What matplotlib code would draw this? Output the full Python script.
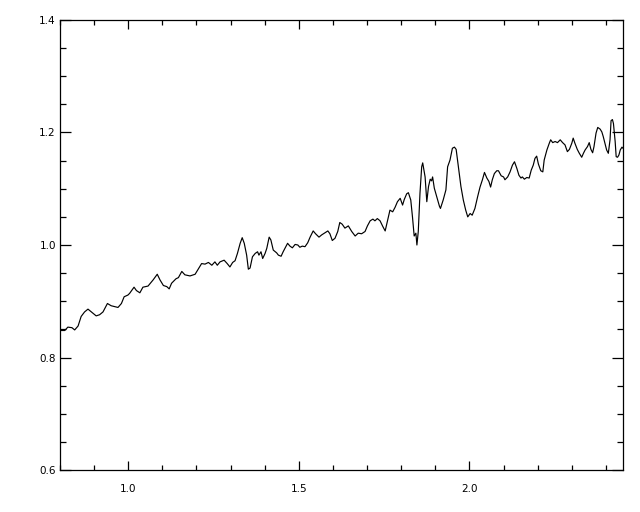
import numpy as np
import matplotlib
matplotlib.use('Agg')
import matplotlib.pyplot as plt
from matplotlib.ticker import MultipleLocator

# spectrum (wavelength, flux)
wave = [0.802, 0.814, 0.823, 0.835, 0.843, 0.853, 0.862, 0.872, 0.882, 0.892,
        0.906, 0.916, 0.926, 0.939, 0.950, 0.970, 0.980, 0.988, 0.999, 1.004,
        1.017, 1.024, 1.034, 1.043, 1.058, 1.073, 1.085, 1.093, 1.103, 1.113,
        1.120, 1.127, 1.140, 1.147, 1.157, 1.166, 1.181, 1.196, 1.205, 1.215,
        1.225, 1.235, 1.245, 1.254, 1.261, 1.269, 1.281, 1.290, 1.298, 1.306,
        1.313, 1.320, 1.328, 1.334, 1.340, 1.347, 1.352, 1.357, 1.364, 1.372,
        1.379, 1.383, 1.389, 1.394, 1.401, 1.406, 1.413, 1.418, 1.425, 1.435,
        1.440, 1.448, 1.454, 1.462, 1.467, 1.474, 1.481, 1.489, 1.497, 1.503,
        1.510, 1.518, 1.526, 1.533, 1.542, 1.549, 1.559, 1.567, 1.577, 1.585,
        1.591, 1.598, 1.606, 1.614, 1.620, 1.627, 1.635, 1.645, 1.655, 1.665,
        1.674, 1.684, 1.694, 1.701, 1.709, 1.717, 1.723, 1.730, 1.738, 1.746,
        1.753, 1.759, 1.767, 1.775, 1.782, 1.789, 1.797, 1.804, 1.809, 1.816,
        1.821, 1.828, 1.833, 1.838, 1.843, 1.846, 1.850, 1.855, 1.860, 1.863,
        1.870, 1.875, 1.880, 1.885, 1.889, 1.892, 1.897, 1.904, 1.912, 1.915,
        1.923, 1.931, 1.936, 1.943, 1.950, 1.956, 1.961, 1.967, 1.975, 1.982,
        1.989, 1.995, 2.002, 2.008, 2.016, 2.024, 2.031, 2.038, 2.044, 2.051,
        2.057, 2.062, 2.067, 2.073, 2.080, 2.085, 2.093, 2.100, 2.104, 2.112,
        2.119, 2.126, 2.132, 2.139, 2.145, 2.151, 2.155, 2.161, 2.168, 2.175,
        2.181, 2.187, 2.192, 2.197, 2.202, 2.209, 2.215, 2.219, 2.227, 2.234,
        2.238, 2.244, 2.251, 2.258, 2.266, 2.273, 2.280, 2.287, 2.293, 2.300,
        2.304, 2.309, 2.316, 2.322, 2.329, 2.334, 2.339, 2.346, 2.351, 2.356,
        2.361, 2.365, 2.371, 2.376, 2.383, 2.388, 2.392, 2.397, 2.402, 2.407,
        2.412, 2.415, 2.419, 2.422, 2.427, 2.430, 2.434, 2.438, 2.442, 2.447,
        2.450]
flux = [0.848, 0.848, 0.854, 0.853, 0.849, 0.856, 0.873, 0.881, 0.886, 0.881,
        0.874, 0.876, 0.881, 0.896, 0.892, 0.889, 0.896, 0.908, 0.911, 0.914,
        0.925, 0.919, 0.915, 0.925, 0.927, 0.938, 0.948, 0.938, 0.928, 0.926,
        0.922, 0.932, 0.940, 0.942, 0.953, 0.947, 0.945, 0.948, 0.957, 0.967,
        0.966, 0.969, 0.964, 0.970, 0.964, 0.970, 0.973, 0.967, 0.961, 0.969,
        0.972, 0.985, 1.003, 1.013, 1.003, 0.982, 0.957, 0.959, 0.979, 0.985,
        0.988, 0.982, 0.988, 0.976, 0.985, 0.994, 1.014, 1.009, 0.991, 0.986,
        0.982, 0.980, 0.988, 0.997, 1.003, 0.998, 0.995, 1.001, 1.000, 0.996,
        0.998, 0.997, 1.004, 1.014, 1.025, 1.020, 1.014, 1.018, 1.022, 1.025,
        1.020, 1.008, 1.012, 1.024, 1.040, 1.037, 1.030, 1.034, 1.024, 1.016,
        1.021, 1.020, 1.024, 1.034, 1.043, 1.046, 1.043, 1.047, 1.043, 1.033,
        1.025, 1.041, 1.062, 1.059, 1.067, 1.077, 1.083, 1.071, 1.081, 1.091,
        1.093, 1.080, 1.050, 1.016, 1.021, 1.000, 1.024, 1.092, 1.139, 1.146,
        1.121, 1.077, 1.104, 1.117, 1.114, 1.121, 1.101, 1.086, 1.069, 1.065,
        1.080, 1.098, 1.139, 1.151, 1.172, 1.174, 1.170, 1.142, 1.104, 1.080,
        1.062, 1.050, 1.056, 1.053, 1.065, 1.086, 1.103, 1.116, 1.129, 1.119,
        1.113, 1.103, 1.116, 1.127, 1.132, 1.132, 1.123, 1.121, 1.116, 1.121,
        1.130, 1.142, 1.148, 1.136, 1.124, 1.119, 1.121, 1.117, 1.120, 1.119,
        1.133, 1.142, 1.154, 1.158, 1.144, 1.132, 1.130, 1.151, 1.169, 1.181,
        1.187, 1.182, 1.184, 1.182, 1.187, 1.182, 1.178, 1.166, 1.170, 1.181,
        1.190, 1.181, 1.170, 1.163, 1.156, 1.163, 1.169, 1.175, 1.182, 1.170,
        1.164, 1.175, 1.199, 1.209, 1.206, 1.201, 1.193, 1.181, 1.169, 1.163,
        1.187, 1.221, 1.223, 1.216, 1.184, 1.157, 1.156, 1.160, 1.169, 1.174,
        1.172]

xlim = (0.8, 2.45)
ylim = (0.6, 1.4)

fig = plt.figure(figsize=(6.4, 5.12), dpi=100)
ax = fig.add_axes([60 / 640, 42 / 512, 563 / 640, 450 / 512])
ax.plot(wave, flux, color='black', lw=0.85)
ax.set_xlim(*xlim)
ax.set_ylim(*ylim)

ax.xaxis.set_major_locator(MultipleLocator(0.5))
ax.xaxis.set_minor_locator(MultipleLocator(0.1))
ax.yaxis.set_major_locator(MultipleLocator(0.2))
ax.yaxis.set_minor_locator(MultipleLocator(0.05))
ax.xaxis.set_major_formatter(plt.FuncFormatter(lambda v, p: '%.1f' % v))
ax.yaxis.set_major_formatter(plt.FuncFormatter(lambda v, p: '%.1f' % v))

ax.tick_params(axis='both', which='both', direction='in', top=True, right=True,
               width=0.9, color='black', labelsize=7.5)
ax.tick_params(axis='x', which='major', length=6.5, pad=10)
ax.tick_params(axis='x', which='minor', length=3.6)
ax.tick_params(axis='y', which='major', length=8, pad=3)
ax.tick_params(axis='y', which='minor', length=4.3)
for sp in ax.spines.values():
    sp.set_linewidth(0.9)

fig.savefig('out.png', dpi=100)
